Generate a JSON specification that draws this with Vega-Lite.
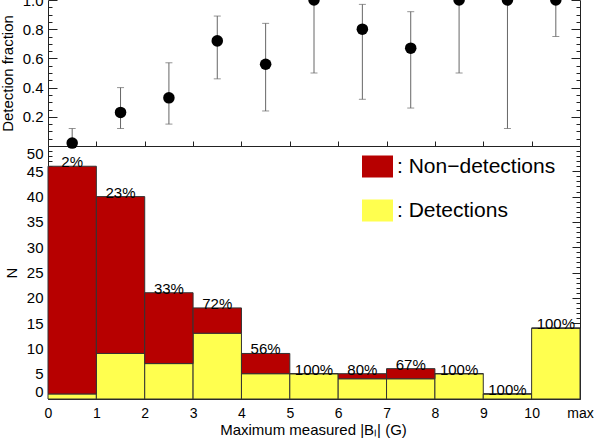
{
  "$schema": "https://vega.github.io/schema/vega-lite/v6.json",
  "autosize": {"type": "none"},
  "padding": {"left": 48, "top": 0, "right": 18, "bottom": 43},
  "width": 532,
  "height": 399,
  "background": "white",
  "config": {
    "view": {"stroke": null},
    "font": "Liberation Sans",
    "axis": {
      "grid": false,
      "labelFont": "Liberation Sans",
      "labelFontSize": 15,
      "labelColor": "black",
      "titleFont": "Liberation Sans",
      "titleFontSize": 15,
      "titleFontWeight": "normal",
      "titleColor": "black",
      "domainColor": "#222",
      "tickColor": "#222",
      "labelFlush": false,
      "labelOverlap": false
    },
    "legend": {
      "labelFont": "Liberation Sans",
      "labelFontSize": 21,
      "labelColor": "black",
      "labelLimit": 400
    }
  },
  "data": {
    "values": [
      {"lo": 0, "hi": 1, "mid": 0.5, "det": 1, "tot": 46, "frac": 0.02, "elo": 0.0, "ehi": 0.12, "pct": "2%"},
      {"lo": 1, "hi": 2, "mid": 1.5, "det": 9, "tot": 40, "frac": 0.23, "elo": 0.12, "ehi": 0.40, "pct": "23%"},
      {"lo": 2, "hi": 3, "mid": 2.5, "det": 7, "tot": 21, "frac": 0.33, "elo": 0.15, "ehi": 0.57, "pct": "33%"},
      {"lo": 3, "hi": 4, "mid": 3.5, "det": 13, "tot": 18, "frac": 0.72, "elo": 0.46, "ehi": 0.89, "pct": "72%"},
      {"lo": 4, "hi": 5, "mid": 4.5, "det": 5, "tot": 9, "frac": 0.56, "elo": 0.24, "ehi": 0.84, "pct": "56%"},
      {"lo": 5, "hi": 6, "mid": 5.5, "det": 5, "tot": 5, "frac": 1.0, "elo": 0.50, "ehi": 1.0, "pct": "100%"},
      {"lo": 6, "hi": 7, "mid": 6.5, "det": 4, "tot": 5, "frac": 0.80, "elo": 0.32, "ehi": 0.97, "pct": "80%"},
      {"lo": 7, "hi": 8, "mid": 7.5, "det": 4, "tot": 6, "frac": 0.67, "elo": 0.26, "ehi": 0.92, "pct": "67%"},
      {"lo": 8, "hi": 9, "mid": 8.5, "det": 5, "tot": 5, "frac": 1.0, "elo": 0.50, "ehi": 1.0, "pct": "100%"},
      {"lo": 9, "hi": 10, "mid": 9.5, "det": 1, "tot": 1, "frac": 1.0, "elo": 0.12, "ehi": 1.0, "pct": "100%"},
      {"lo": 10, "hi": 11, "mid": 10.5, "det": 14, "tot": 14, "frac": 1.0, "elo": 0.75, "ehi": 1.0, "pct": "100%"}
    ]
  },
  "layer": [
    {
      "mark": {"type": "rule", "color": "#666", "strokeWidth": 1},
      "encoding": {
        "x": {"field": "mid", "type": "quantitative",
          "scale": {"domain": [0, 11], "nice": false, "zero": false},
          "axis": {"orient": "top", "offset": -146, "values": [1,2,3,4,5,6,7,8,9,10], "labels": false, "tickSize": 5, "title": null}},
        "y": {"field": "elo", "type": "quantitative",
          "scale": {"domain": [0, 1], "range": [146, 0], "nice": false, "zero": false},
          "axis": {"orient": "left", "values": [0.2, 0.4, 0.6, 0.8, 1.0], "format": ".1f", "ticks": false, "labelPadding": 5, "domain": true,
            "title": "Detection fraction", "titleX": -36, "titleY": 73, "titleAngle": -90, "titleBaseline": "alphabetic", "titleAlign": "center"}},
        "y2": {"field": "ehi"}
      }
    },
    {
      "mark": {"type": "tick", "orient": "horizontal", "color": "#666", "size": 7, "thickness": 1},
      "encoding": {
        "x": {"field": "mid", "type": "quantitative", "axis": null},
        "y": {"field": "elo", "type": "quantitative",
          "scale": {"domain": [0, 1], "range": [146, 0], "nice": false, "zero": false},
          "axis": {"orient": "left", "values": [0.05,0.1,0.15,0.2,0.25,0.3,0.35,0.4,0.45,0.5,0.55,0.6,0.65,0.7,0.75,0.8,0.85,0.9,0.95,1.0],
            "labels": false, "domain": false, "title": null,
            "tickSize": {"condition": {"test": "abs(datum.value*5 - round(datum.value*5)) < 0.001", "value": -9}, "value": -4}}}
      }
    },
    {
      "mark": {"type": "tick", "orient": "horizontal", "color": "#666", "size": 7, "thickness": 1},
      "encoding": {
        "x": {"field": "mid", "type": "quantitative", "axis": null},
        "y": {"field": "ehi", "type": "quantitative",
          "scale": {"domain": [0, 1], "range": [146, 0], "nice": false, "zero": false},
          "axis": {"orient": "right", "values": [0.05,0.1,0.15,0.2,0.25,0.3,0.35,0.4,0.45,0.5,0.55,0.6,0.65,0.7,0.75,0.8,0.85,0.9,0.95,1.0],
            "labels": false, "domain": true, "title": null,
            "tickSize": {"condition": {"test": "abs(datum.value*5 - round(datum.value*5)) < 0.001", "value": -9}, "value": -4}}}
      }
    },
    {
      "mark": {"type": "point", "filled": true, "color": "black", "size": 133, "opacity": 1},
      "encoding": {
        "x": {"field": "mid", "type": "quantitative", "axis": null},
        "y": {"field": "frac", "type": "quantitative",
          "scale": {"domain": [0, 1], "range": [146, 0], "nice": false, "zero": false},
          "axis": null}
      }
    },
    {
      "mark": {"type": "bar", "stroke": "#333", "strokeWidth": 1},
      "encoding": {
        "x": {"field": "lo", "type": "quantitative",
          "axis": {"orient": "bottom", "values": [0,1,2,3,4,5,6,7,8,9,10,11], "labelExpr": "datum.value == 11 ? 'max' : datum.label",
            "ticks": false, "labelPadding": 7, "labelFontSize": 14, "title": "Maximum measured |Bₗ| (G)", "titleFontSize": 15,
            "titleY": 35, "titleX": 265, "titleBaseline": "alphabetic", "titleAlign": "center"}},
        "x2": {"field": "hi"},
        "y": {"field": "det", "type": "quantitative",
          "scale": {"domain": [0, 50], "range": [399, 146], "nice": false, "zero": false},
          "axis": {"orient": "left", "values": [0,5,10,15,20,25,30,35,40,45,50], "ticks": false, "labelPadding": 5, "domain": true, "labelFlush": true,
            "title": "N", "titleX": -32, "titleY": 272.5, "titleAngle": -90, "titleBaseline": "alphabetic", "titleAlign": "center"}},
        "y2": {"datum": 0},
        "color": {"datum": "Detections", "type": "nominal",
          "scale": {"domain": ["Non−detections", "Detections"], "range": ["#b70000", "#ffff4f"]},
          "legend": {"orient": "none", "legendX": 314, "legendY": 151, "title": null, "padding": 0,
            "symbolType": "M-1,-0.71L1,-0.71L1,0.71L-1,0.71Z", "symbolSize": 961, "symbolStrokeWidth": 0, "symbolOpacity": 1,
            "rowPadding": 17, "labelOffset": 4, "labelExpr": "': ' + datum.label"}}
      }
    },
    {
      "mark": {"type": "bar", "stroke": "#333", "strokeWidth": 1},
      "encoding": {
        "x": {"field": "lo", "type": "quantitative", "axis": null},
        "x2": {"field": "hi"},
        "y": {"field": "det", "type": "quantitative",
          "scale": {"domain": [0, 50], "range": [399, 146], "nice": false, "zero": false},
          "axis": {"orient": "left", "values": [0,1,2,3,4,5,6,7,8,9,10,11,12,13,14,15,16,17,18,19,20,21,22,23,24,25,26,27,28,29,30,31,32,33,34,35,36,37,38,39,40,41,42,43,44,45,46,47,48,49,50],
            "labels": false, "domain": false, "title": null,
            "tickSize": {"condition": {"test": "datum.value % 5 == 0", "value": -8}, "value": -4}}},
        "y2": {"field": "tot"},
        "color": {"datum": "Non−detections", "type": "nominal"}
      }
    },
    {
      "mark": {"type": "text", "font": "Liberation Sans", "fontSize": 15, "color": "black", "baseline": "alphabetic", "align": "center", "dy": 1},
      "encoding": {
        "x": {"field": "mid", "type": "quantitative", "axis": null},
        "y": {"field": "tot", "type": "quantitative",
          "scale": {"domain": [0, 50], "range": [399, 146], "nice": false, "zero": false},
          "axis": {"orient": "right", "values": [0,1,2,3,4,5,6,7,8,9,10,11,12,13,14,15,16,17,18,19,20,21,22,23,24,25,26,27,28,29,30,31,32,33,34,35,36,37,38,39,40,41,42,43,44,45,46,47,48,49,50],
            "labels": false, "domain": true, "title": null,
            "tickSize": {"condition": {"test": "datum.value % 5 == 0", "value": -8}, "value": -4}}},
        "text": {"field": "pct"}
      }
    }
  ],
  "resolve": {"scale": {"y": "independent"}, "axis": {"y": "independent", "x": "independent"}}
}
